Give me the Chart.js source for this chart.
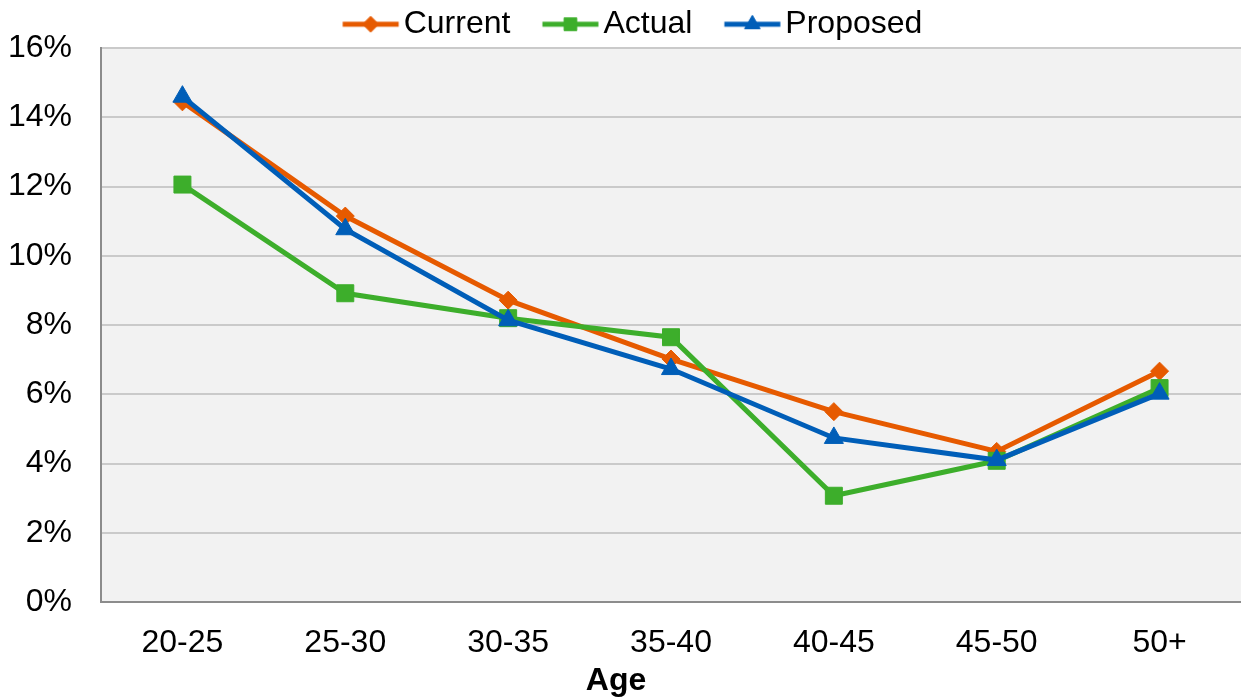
<!DOCTYPE html>
<html>
<head>
<meta charset="utf-8">
<script src="https://cdn.jsdelivr.net/npm/chart.js@4.4.0/dist/chart.umd.min.js"></script>
<style>
  html, body { margin: 0; padding: 0; background: #ffffff; }
</style>
</head>
<body>
<canvas id="ageChart" width="1241" height="700"></canvas>
<script>
// ===== dados =====
const ageGroups = ['20-25', '25-30', '30-35', '35-40', '40-45', '45-50', '50+'];
const currentRates = [14.45, 11.15, 8.72, 7.02, 5.5, 4.35, 6.67];
const actualRates = [12.06, 8.92, 8.2, 7.65, 3.07, 4.08, 6.18];
const proposedRates = [14.6, 10.77, 8.14, 6.73, 4.74, 4.1, 6.02];
const seriesNames = ['Current', 'Actual', 'Proposed'];
const axisTitle = 'Age';

const ORANGE = '#E65A00';
const GREEN = '#3DAE2B';
const BLUE = '#005EB8';
const FONT = "'Liberation Sans', Arial, sans-serif";
const FONT_SIZE = 32;

// legenda: linha + marcador (estilo Excel) desenhado num canvas pequeno
const LEG_PAD = 8;
const LEG_BOX = 77 - LEG_PAD;
function legendSymbol(color, style, radius) {
    const c = document.createElement('canvas');
    c.width = 94;
    c.height = 30;
    const g = c.getContext('2d');
    const start = 2 + LEG_BOX / 2;   // início da linha dentro do ícone
    g.strokeStyle = color;
    g.fillStyle = color;
    g.lineWidth = 5;
    g.beginPath();
    g.moveTo(start, 15);
    g.lineTo(start + 56, 15);
    g.stroke();
    g.lineWidth = 1;
    Chart.helpers.drawPoint(g, { pointStyle: style, radius: radius, rotation: 0, borderWidth: 1 }, start + 28, 15);
    return c;
}
const legendIcons = [
    legendSymbol(ORANGE, 'rectRot', 8),
    legendSymbol(GREEN, 'rect', 9),
    legendSymbol(BLUE, 'triangle', 9)
];

// fundo cinza da área do gráfico + título do eixo X (centrado na figura)
const plotBackground = {
    id: 'plotBackground',
    beforeDraw(chart) {
        const { ctx, chartArea: a } = chart;
        ctx.save();
        ctx.fillStyle = '#F2F2F2';
        ctx.fillRect(a.left, a.top, a.right - a.left, a.bottom - a.top);
        ctx.restore();
    },
    afterDraw(chart) {
        const { ctx } = chart;
        ctx.save();
        ctx.fillStyle = '#000';
        ctx.font = 'bold ' + FONT_SIZE + 'px ' + FONT;
        ctx.textAlign = 'center';
        ctx.textBaseline = 'middle';
        ctx.fillText(axisTitle, 616, 681);
        ctx.restore();
    }
};

// altura fixa da legenda
const legendHeight = {
    id: 'legendHeight',
    beforeInit(chart) {
        const fit = chart.legend.fit;
        chart.legend.fit = function () {
            fit.call(this);
            this.height = 48;
        };
    }
};

const ctx = document.getElementById('ageChart').getContext('2d');
new Chart(ctx, {
    type: 'line',
    data: {
        labels: ageGroups,
        datasets: [
            {
                label: seriesNames[0],
                data: currentRates,
                borderColor: ORANGE,
                backgroundColor: ORANGE,
                borderWidth: 5,
                pointStyle: 'rectRot',
                pointRadius: 9,
                pointBorderWidth: 1,
                tension: 0,
                order: 2
            },
            {
                label: seriesNames[1],
                data: actualRates,
                borderColor: GREEN,
                backgroundColor: GREEN,
                borderWidth: 5,
                pointStyle: 'rect',
                pointRadius: 12,
                pointBorderWidth: 1,
                tension: 0,
                order: 1
            },
            {
                label: seriesNames[2],
                data: proposedRates,
                borderColor: BLUE,
                backgroundColor: BLUE,
                borderWidth: 5,
                pointStyle: 'triangle',
                pointRadius: 11,
                pointBorderWidth: 1,
                tension: 0,
                order: 0
            }
        ]
    },
    options: {
        responsive: false,
        animation: false,
        layout: { padding: 0, autoPadding: false },
        plugins: {
            tooltip: { enabled: false },
            legend: {
                position: 'top',
                align: 'center',
                labels: {
                    usePointStyle: true,
                    pointStyleWidth: LEG_BOX,
                    padding: LEG_PAD,
                    color: '#000',
                    font: { family: FONT, size: FONT_SIZE },
                    generateLabels: (chart) => seriesNames.map((name, i) => ({
                        text: name,
                        pointStyle: legendIcons[i],
                        fillStyle: 'transparent',
                        strokeStyle: 'transparent',
                        lineWidth: 0,
                        hidden: false,
                        datasetIndex: i
                    }))
                }
            }
        },
        scales: {
            x: {
                offset: true,
                grid: { display: false, drawTicks: false },
                border: { color: '#8C8C8C', width: 2 },
                ticks: {
                    color: '#000',
                    padding: 22,
                    font: { family: FONT, size: FONT_SIZE }
                },
                afterFit: (scale) => {
                    scale.height = 98;
                    scale.paddingLeft = 0;
                    scale.paddingRight = 0;
                }
            },
            y: {
                min: 0,
                max: 16,
                ticks: {
                    stepSize: 2,
                    color: '#000',
                    padding: 29,
                    font: { family: FONT, size: FONT_SIZE },
                    callback: (v) => v + '%'
                },
                grid: {
                    drawTicks: false,
                    lineWidth: 2,
                    color: (c) => c.tick && c.tick.value === 0 ? 'transparent' : '#CACACA'
                },
                border: { color: '#8C8C8C', width: 2 },
                afterFit: (scale) => { scale.width = 101; }
            }
        }
    },
    plugins: [plotBackground, legendHeight]
});
</script>
</body>
</html>
